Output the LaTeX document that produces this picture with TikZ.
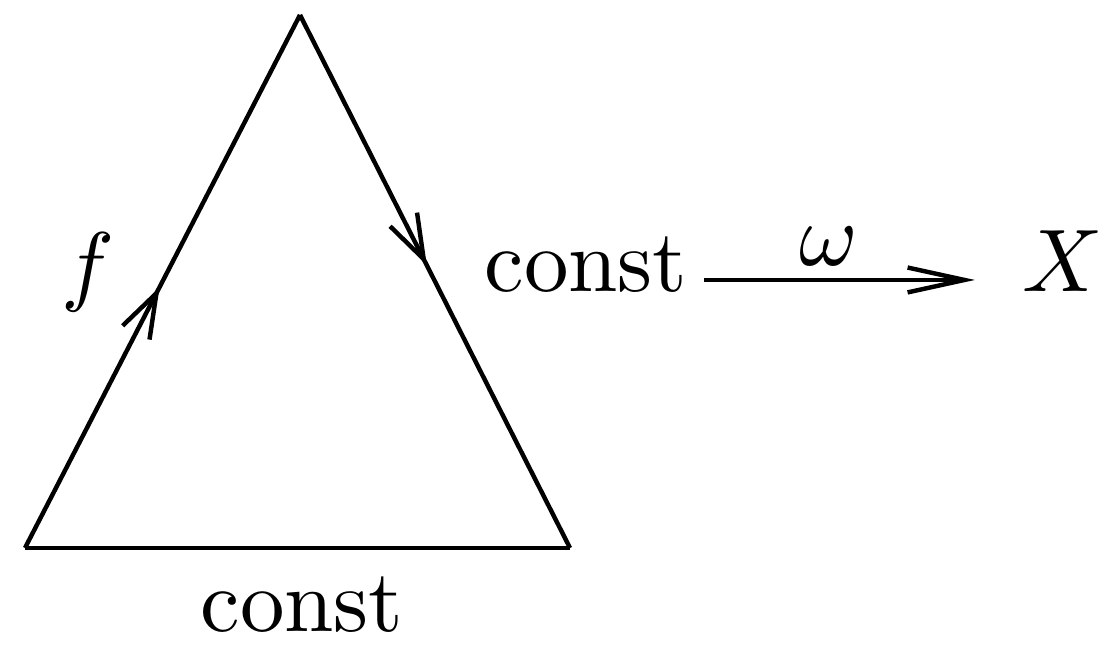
\documentclass[tikz,border=0pt]{standalone}
\usetikzlibrary{arrows.meta,decorations.markings}
\tikzset{
  edge-line/.style={line width=0.5pt},
  edge-arrow/.style={edge-line,postaction={decorate},
    decoration={markings,mark=at position #1 with
      {\arrow{Straight Barb[length=5pt,width=3.4pt]}}}},
  map-arrow/.style={edge-line,-{Straight Barb[length=6.4pt,width=2.8pt]}},
  obj/.style={inner sep=0pt,outer sep=0pt},
}
\begin{document}
\begin{tikzpicture}[x=0.1125pt,y=-0.1125pt]
  \useasboundingbox (0,0) rectangle (1099,650);
  % triangle
  \coordinate (top) at (300,15);
  \coordinate (bl)  at (25,548);
  \coordinate (br)  at (570,548);
  \draw[edge-arrow=0.49]  (bl)  -- (top);
  \draw[edge-arrow=0.47]  (top) -- (br);
  \draw[edge-line]        (bl)  -- (br);
  % labels
  \node[obj]             (f)   at (88,272)  {$f$};
  \node[obj,anchor=base] (cb)  at (302,632) {const};
  \node[obj,anchor=base] (cr)  at (586,292) {const};
  \node[obj,anchor=base west] (X) at (1022,292) {$X$};
  \draw[map-arrow] ([xshift=1.9pt,yshift=1.35pt]cr.base east)
    -- node[pos=0.46,above=1.6pt,obj] (om) {$\omega$}
       ([xshift=-5.3pt,yshift=1.35pt]X.base west);
\end{tikzpicture}
\end{document}
